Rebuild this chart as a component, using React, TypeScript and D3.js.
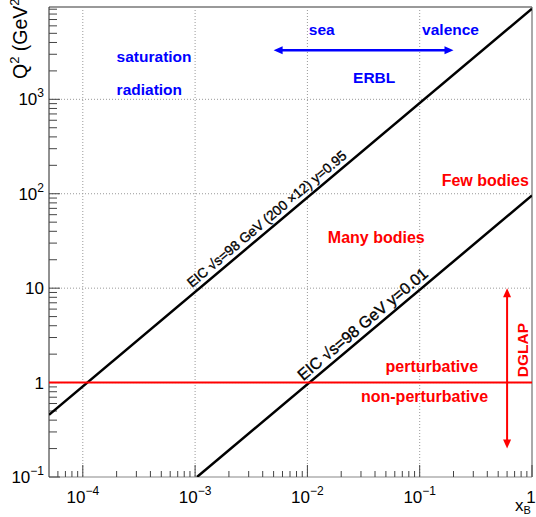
import * as d3 from "d3";
import React from "react";

// axis ranges
const xDomain = [5e-5, 1];
const yDomain = [0.1, 9500];

const xMajor = [1e-4, 1e-3, 1e-2, 1e-1, 1];
const xTickBase = ["10", "10", "10", "10", "1"];
const xTickExp = ["\u22124", "\u22123", "\u22122", "\u22121", ""];

const yMajor = [0.1, 1, 10, 100, 1000];
const yTickBase = ["10", "1", "10", "10", "10"];
const yTickExp = ["\u22121", "", "", "2", "3"];

// kinematic lines (x, Q2) end points
const lineHigh = [
  { x: 5e-5, q2: 0.456 },
  { x: 1, q2: 9124 },
];
const lineLow = [
  { x: 1.04e-3, q2: 0.1 },
  { x: 1, q2: 96 },
];
const lineLabels = ["EIC  \u221As=98 GeV (200 \u00D712) y=0.95", "EIC  \u221As=98 GeV y=0.01"];
const lineLabelStartX = [1e-3, 0.0098];
const lineLabelSize = [13.7, 16];

// arrows
const blueArrow = { x1: 0.005, x2: 0.2, q2: 3300 };
const redArrow = { x: 0.6, q1: 10, q2: 0.2 };

const blueTexts = [
  { t: "saturation", x: 2.0e-4, q2: 2490 },
  { t: "radiation", x: 2.0e-4, q2: 1110 },
  { t: "sea", x: 0.0103, q2: 4800 },
  { t: "valence", x: 0.105, q2: 4800 },
  { t: "ERBL", x: 0.0255, q2: 1490 },
];
const redTexts = [
  { t: "Few bodies", x: 0.157, q2: 121 },
  { t: "Many bodies", x: 0.0152, q2: 30 },
  { t: "perturbative", x: 0.0497, q2: 1.3 },
  { t: "non-perturbative", x: 0.03, q2: 0.62 },
];

const W = 536;
const H = 517;
const L = 49;
const R = 532;
const T = 7;
const B = 477;

export default function App() {
  const x = d3.scaleLog().domain(xDomain).range([L, R]);
  const y = d3.scaleLog().domain(yDomain).range([B, T]);
  const font = "'Liberation Sans', Arial, Helvetica, sans-serif";

  const xMinor: number[] = [];
  const yMinor: number[] = [];
  for (let e = -5; e <= 0; e++) {
    for (let m = 2; m <= 9; m++) {
      const v = m * Math.pow(10, e);
      if (v > xDomain[0] && v < xDomain[1]) xMinor.push(v);
    }
  }
  for (let e = -1; e <= 3; e++) {
    for (let m = 2; m <= 9; m++) {
      const v = m * Math.pow(10, e);
      if (v > yDomain[0] && v < yDomain[1]) yMinor.push(v);
    }
  }

  const line = d3
    .line<{ x: number; q2: number }>()
    .x((d) => x(d.x))
    .y((d) => y(d.q2));

  const angleOf = (pts: { x: number; q2: number }[]) => {
    const dx = x(pts[1].x) - x(pts[0].x);
    const dy = y(pts[1].q2) - y(pts[0].q2);
    return (Math.atan2(dy, dx) * 180) / Math.PI;
  };
  const q2At = (pts: { x: number; q2: number }[], xv: number) => {
    const t = (Math.log10(xv) - Math.log10(pts[0].x)) / (Math.log10(pts[1].x) - Math.log10(pts[0].x));
    return Math.pow(10, Math.log10(pts[0].q2) + t * (Math.log10(pts[1].q2) - Math.log10(pts[0].q2)));
  };

  const lines = [lineHigh, lineLow];

  const bx1 = x(blueArrow.x1);
  const bx2 = x(blueArrow.x2);
  const by = y(blueArrow.q2);
  const rx = x(redArrow.x);
  const ry1 = y(redArrow.q1);
  const ry2 = y(redArrow.q2);

  return (
    <svg width={W} height={H} style={{ position: "absolute", left: 0, top: 0, background: "#fff" }}>
      <defs>
        <clipPath id="frame">
          <rect x={L} y={T} width={R - L} height={B - T} />
        </clipPath>
      </defs>

      {/* grid */}
      <g stroke="#999" strokeWidth={1} strokeDasharray="1,2">
        {xMajor.filter((v) => v < 1).map((v) => (
          <line key={"gx" + v} x1={x(v)} x2={x(v)} y1={T} y2={B} />
        ))}
        {yMajor.filter((v) => v > 0.1).map((v) => (
          <line key={"gy" + v} x1={L} x2={R} y1={y(v)} y2={y(v)} />
        ))}
      </g>

      {/* frame */}
      <line x1={L} x2={R} y1={T} y2={T} stroke="#999" strokeWidth={2} />
      <line x1={R} x2={R} y1={T} y2={B} stroke="#555" strokeWidth={1} />
      <line x1={L} x2={R} y1={B} y2={B} stroke="#888" strokeWidth={1.2} />
      <line x1={L} x2={L} y1={T} y2={B} stroke="#222" strokeWidth={1} />

      {/* ticks */}
      <g stroke="#444" strokeWidth={1}>
        {xMajor.map((v) => (
          <line key={"xt" + v} x1={x(v)} x2={x(v)} y1={B} y2={B - 12} />
        ))}
        {xMinor.map((v) => (
          <line key={"xm" + v} x1={x(v)} x2={x(v)} y1={B} y2={B - 6} />
        ))}
        {yMajor.map((v) => (
          <line key={"yt" + v} x1={L} x2={L + 11} y1={y(v)} y2={y(v)} />
        ))}
        {yMinor.map((v) => (
          <line key={"ym" + v} x1={L} x2={L + 8} y1={y(v)} y2={y(v)} />
        ))}
      </g>

      {/* tick labels */}
      <g fontFamily={font} fontSize={17} fill="#000">
        {xMajor.map((v, i) => (
          <text key={"xl" + v} x={x(v) + (xTickExp[i] ? 0 : -1)} y={503} textAnchor="middle">
            {xTickBase[i]}
            {xTickExp[i] && (
              <tspan fontSize={12} dy={-8}>
                {xTickExp[i]}
              </tspan>
            )}
          </text>
        ))}
        {yMajor.map((v, i) => (
          <text key={"yl" + v} x={44} y={y(v) + 6} textAnchor="end">
            {yTickBase[i]}
            {yTickExp[i] && (
              <tspan fontSize={12} dy={-8}>
                {yTickExp[i]}
              </tspan>
            )}
          </text>
        ))}
      </g>

      {/* axis titles */}
      <text fontFamily={font} fontSize={19.5} transform={`translate(27,79) rotate(-90)`}>
        Q
        <tspan fontSize={13} dy={-8}>2</tspan>
        <tspan dy={8}> (GeV</tspan>
        <tspan fontSize={13} dy={-8}>2</tspan>
        <tspan dy={8}>)</tspan>
      </text>
      <text fontFamily={font} fontSize={17} x={515} y={511}>
        x
        <tspan fontSize={11} dy={3}>B</tspan>
      </text>

      {/* kinematic lines */}
      <g clipPath="url(#frame)">
        {lines.map((pts, i) => (
          <path key={"l" + i} d={line(pts) || ""} fill="none" stroke="#000" strokeWidth={2.5} />
        ))}
        <line x1={L} x2={R} y1={y(1)} y2={y(1)} stroke="#ff0000" strokeWidth={2} />
      </g>

      {lines.map((pts, i) => {
        const xv = lineLabelStartX[i];
        const px = x(xv);
        const py = y(q2At(pts, xv));
        return (
          <text
            key={"ll" + i}
            fontFamily={font}
            fontSize={lineLabelSize[i]}
            transform={`translate(${px},${py}) rotate(${angleOf(pts)})`}
            x={0}
            y={-5}
            fill="#000"
            stroke="#000"
            strokeWidth={0.35}
          >
            {lineLabels[i]}
          </text>
        );
      })}

      {/* blue arrow */}
      <line x1={bx1 + 6} x2={bx2 - 6} y1={by} y2={by} stroke="#0000ff" strokeWidth={2.5} />
      <path d={`M${bx1},${by} L${bx1 + 9},${by - 4} L${bx1 + 9},${by + 4} Z`} fill="#0000ff" />
      <path d={`M${bx2},${by} L${bx2 - 9},${by - 4} L${bx2 - 9},${by + 4} Z`} fill="#0000ff" />

      {/* red arrow */}
      <line x1={rx} x2={rx} y1={ry1 + 6} y2={ry2 - 6} stroke="#ff0000" strokeWidth={2} />
      <path d={`M${rx},${ry1} L${rx - 4},${ry1 + 9} L${rx + 4},${ry1 + 9} Z`} fill="#ff0000" />
      <path d={`M${rx},${ry2} L${rx - 4},${ry2 - 9} L${rx + 4},${ry2 - 9} Z`} fill="#ff0000" />
      <text
        fontFamily={font}
        fontSize={15.5}
        fontWeight="bold"
        fill="#ff0000"
        textAnchor="middle"
        transform={`translate(528,350) rotate(-90)`}
      >
        DGLAP
      </text>

      {/* labels */}
      <g fontFamily={font} fontWeight="bold" fontSize={15.5} fill="#0000ff">
        {blueTexts.map((d) => (
          <text key={d.t} x={x(d.x)} y={y(d.q2)}>
            {d.t}
          </text>
        ))}
      </g>
      <g fontFamily={font} fontWeight="bold" fontSize={16} fill="#ff0000">
        {redTexts.map((d) => (
          <text key={d.t} x={x(d.x)} y={y(d.q2)}>
            {d.t}
          </text>
        ))}
      </g>
    </svg>
  );
}
